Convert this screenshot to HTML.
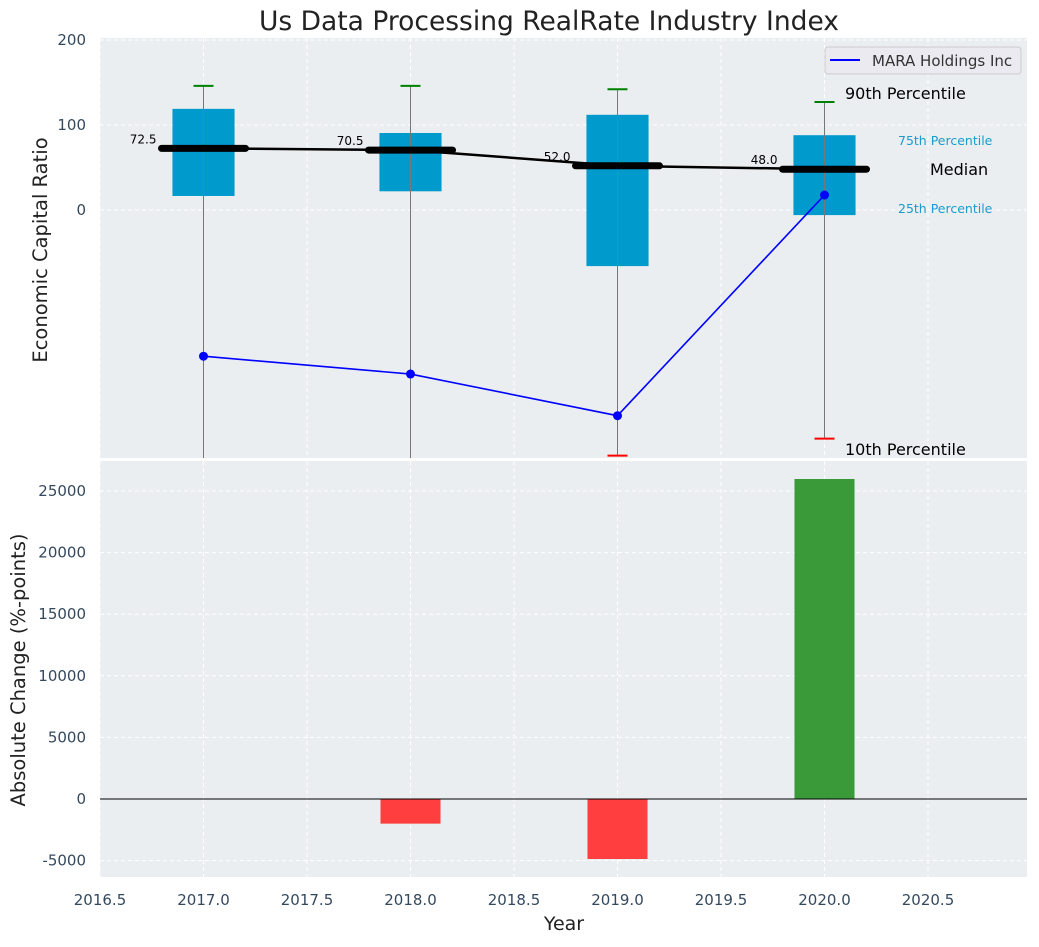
<!DOCTYPE html>
<html><head><meta charset="utf-8"><style>
body{margin:0;background:#fff;font-family:"Liberation Sans","DejaVu Sans",sans-serif}
</style></head><body>
<svg id="c" width="1039" height="942" xmlns="http://www.w3.org/2000/svg" font-family="DejaVu Sans, Liberation Sans, sans-serif"></svg>
<script>
const years=[2017,2018,2019,2020];
const p90=[146,146,142,127];
const p75=[119,90.6,112,88];
const medians=[72.5,70.5,52,48];
const p25=[16.5,22,-66,-6];
const p10=[-330,-330,-289,-269];
const company=[-172,-193,-242,17.6];
const changes=[0,-2000,-4870,25974];
const xTicks=[2016.5,2017,2017.5,2018,2018.5,2019,2019.5,2020,2020.5];
const topTicks=[0,100,200];
const botTicks=[-5000,0,5000,10000,15000,20000,25000];

const svg=document.getElementById('c');
const NS='http://www.w3.org/2000/svg';
function el(t,a,txt){const e=document.createElementNS(NS,t);for(const k in a)e.setAttribute(k,a[k]);if(txt!==undefined)e.textContent=txt;svg.appendChild(e);return e;}
const L=100,R=1027;
const x=v=>L+(v-2016.5)*207;
const T0=38,T1=458,B0=461,B1=877;
const yT=v=>210-v*0.85;
const yB=v=>799-v*0.01232;

let e;
e=el('rect',{x:L,y:T0,width:R-L,height:T1-T0,fill:'#eaeef0'});


e=el('rect',{x:L,y:B0,width:R-L,height:B1-B0,fill:'#eaeef0'});



xTicks.forEach(t=>{
  el('line',{x1:x(t),x2:x(t),y1:T0,y2:T1,stroke:'#fff','stroke-dasharray':'4,3'});
  el('line',{x1:x(t),x2:x(t),y1:B0,y2:B1,stroke:'#fff','stroke-dasharray':'4,3'});
  e=el('text',{x:x(t),y:905,'text-anchor':'middle','font-size':15,fill:'#34495e'},t.toFixed(1));
  
  
});
topTicks.forEach(t=>{
  el('line',{x1:L,x2:R,y1:yT(t),y2:yT(t),stroke:'#fff','stroke-dasharray':'4,3'});
  e=el('text',{x:L-14,y:yT(t)+5,'text-anchor':'end','font-size':15,fill:'#34495e'},t);
  
  
});
botTicks.forEach(t=>{
  el('line',{x1:L,x2:R,y1:yB(t),y2:yB(t),stroke:'#fff','stroke-dasharray':'4,3'});
  e=el('text',{x:L-14,y:yB(t)+5,'text-anchor':'end','font-size':15,fill:'#34495e'},t);
  
  
});

const clipT=v=>Math.max(T0,Math.min(T1,v));
years.forEach((yr,i)=>{
  const cx=x(yr),bw=0.3*207;
  e=el('rect',{x:cx-bw/2,y:yT(p75[i]),width:bw,height:yT(p25[i])-yT(p75[i]),fill:'#009acd'});
  
  
  e=el('line',{x1:cx,x2:cx,y1:clipT(yT(p90[i])),y2:clipT(yT(p10[i])),stroke:'#777','stroke-width':1});
  
  
  e=el('line',{x1:cx-10,x2:cx+10,y1:yT(p90[i]),y2:yT(p90[i]),stroke:'green','stroke-width':2});
  
  
  if(yT(p10[i])<=T1){
    e=el('line',{x1:cx-10,x2:cx+10,y1:yT(p10[i]),y2:yT(p10[i]),stroke:'red','stroke-width':2});
    
    
  }
});
e=el('polyline',{points:years.map((yr,i)=>x(yr)+','+yT(medians[i])).join(' '),fill:'none',stroke:'#000','stroke-width':2.5});


years.forEach((yr,i)=>{
  const cx=x(yr);
  e=el('line',{x1:cx-42,x2:cx+42,y1:yT(medians[i]),y2:yT(medians[i]),stroke:'#000','stroke-width':7,'stroke-linecap':'round'});
  
  
  e=el('text',{x:cx-47,y:yT(medians[i])-5,'text-anchor':'end','font-size':12,fill:'#000'},medians[i].toFixed(1));
  
  
});
e=el('polyline',{points:years.map((yr,i)=>x(yr)+','+yT(company[i])).join(' '),fill:'none',stroke:'blue','stroke-width':1.6});


years.forEach((yr,i)=>{
  e=el('circle',{cx:x(yr),cy:yT(company[i]),r:4.5,fill:'blue'});
  
  
});
const ann=[['90th Percentile',845,99,16,'#000'],['75th Percentile',898,145,12.5,'#1a9bd0'],['Median',930,175,16,'#000'],['25th Percentile',898,213,12.5,'#1a9bd0'],['10th Percentile',845,455,16,'#000']];
ann.forEach(a=>{e=el('text',{x:a[1],y:a[2],'font-size':a[3],fill:a[4]},a[0]);

});

e=el('rect',{x:825,y:47,width:196,height:27,rx:3,fill:'#eaeaf0',stroke:'#ccc'});


el('line',{x1:830,x2:860,y1:60,y2:60,stroke:'blue','stroke-width':2});
e=el('text',{x:872,y:66,'font-size':15,fill:'#333'},'MARA Holdings Inc');



years.forEach((yr,i)=>{
  const v=changes[i];if(!v)return;
  const bw=0.29*207,y0=yB(0),y1=yB(v);
  e=el('rect',{x:x(yr)-bw/2,y:Math.min(y0,y1),width:bw,height:Math.abs(y1-y0),fill:v>0?'#3a9a3a':'#ff3f3f'});
  
  
});
el('line',{x1:L,x2:R,y1:yB(0),y2:yB(0),stroke:'#000','stroke-width':1});

e=el('text',{x:549,y:30,'text-anchor':'middle','font-size':26.5,fill:'#222'},'Us Data Processing RealRate Industry Index');


e=el('text',{x:47,y:250,'text-anchor':'middle','font-size':19.5,fill:'#222',transform:'rotate(-90 47 250)'},'Economic Capital Ratio');


e=el('text',{x:25,y:670,'text-anchor':'middle','font-size':19.5,fill:'#222',transform:'rotate(-90 25 670)'},'Absolute Change (%-points)');


e=el('text',{x:564,y:930,'text-anchor':'middle','font-size':19,fill:'#222'},'Year');


</script>
</body></html>
